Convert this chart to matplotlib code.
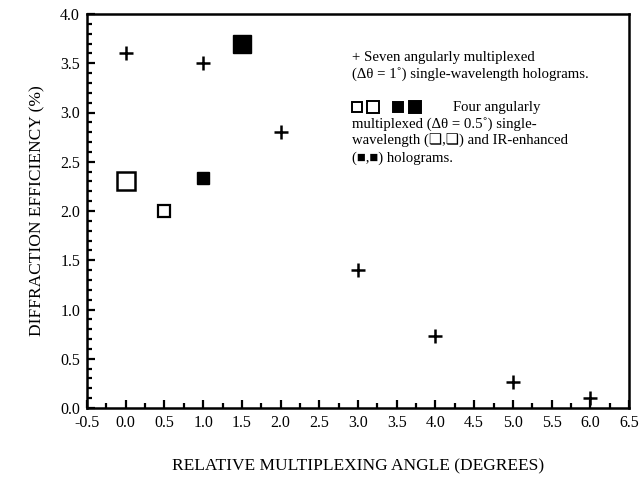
import matplotlib
matplotlib.use("Agg")
import matplotlib.pyplot as plt
from matplotlib.ticker import MultipleLocator, FormatStrFormatter

plt.rcParams['font.family'] = ['Liberation Serif', 'DejaVu Serif', 'DejaVu Sans']

# Seven angularly multiplexed holograms (+)
plus_x = [0, 1, 2, 3, 4, 5, 6]
plus_y = [3.60, 3.50, 2.80, 1.40, 0.73, 0.26, 0.10]

# Four angularly multiplexed holograms
open_large_x = [0.0]
open_large_y = [2.30]
open_small_x = [0.5]
open_small_y = [2.00]
filled_small_x = [1.0]
filled_small_y = [2.33]
filled_large_x = [1.5]
filled_large_y = [3.70]

fig = plt.figure(figsize=(6.42, 4.79), dpi=100)
ax = fig.add_axes([87/642, 1 - 408/479, (629-87)/642, (408-14)/479])

ax.plot(plus_x, plus_y, linestyle='none', marker='+', markersize=10,
        markeredgewidth=1.8, color='black')
ax.plot(open_large_x, open_large_y, linestyle='none', marker='s', markersize=13,
        markerfacecolor='white', markeredgecolor='black', markeredgewidth=1.8)
ax.plot(open_small_x, open_small_y, linestyle='none', marker='s', markersize=8,
        markerfacecolor='white', markeredgecolor='black', markeredgewidth=1.6)
ax.plot(filled_small_x, filled_small_y, linestyle='none', marker='s', markersize=8,
        color='black')
ax.plot(filled_large_x, filled_large_y, linestyle='none', marker='s', markersize=13,
        color='black')

ax.set_xlim(-0.5, 6.5)
ax.set_ylim(0.0, 4.0)
ax.xaxis.set_major_locator(MultipleLocator(0.5))
ax.xaxis.set_minor_locator(MultipleLocator(0.25))
ax.yaxis.set_major_locator(MultipleLocator(0.5))
ax.yaxis.set_minor_locator(MultipleLocator(0.1))
ax.xaxis.set_major_formatter(FormatStrFormatter('%.1f'))
ax.yaxis.set_major_formatter(FormatStrFormatter('%.1f'))
ax.tick_params(which='both', direction='in', top=False, right=False,
               width=1.6, labelsize=11.5)
ax.tick_params(which='major', length=6, pad=5)
ax.tick_params(which='minor', length=3.5)
for s in ax.spines.values():
    s.set_linewidth(1.8)

ax.set_xlabel('RELATIVE MULTIPLEXING ANGLE (DEGREES)', fontsize=12.5, labelpad=20)
ax.set_ylabel('DIFFRACTION EFFICIENCY (%)', fontsize=12.5, labelpad=11)

# Annotation text
tx = (352 - 87) / 542
def yfr(py):
    return (408 - py) / 394

fs = 10.6
ax.text(tx, yfr(57), '+ Seven angularly multiplexed', transform=ax.transAxes,
        fontsize=fs, va='center', ha='left')
ax.text(tx, yfr(74), '(\u0394\u03b8 = 1\u02da) single-wavelength holograms.',
        transform=ax.transAxes, fontsize=fs, va='center', ha='left')

# legend keys
key_y = yfr(107)
for px, filled, ms in [(357, False, 7), (373, False, 9), (398, True, 7), (415, True, 9)]:
    ax.plot([(px - 87) / 542], [key_y], transform=ax.transAxes, marker='s',
            markersize=ms, markerfacecolor='black' if filled else 'white',
            markeredgecolor='black', markeredgewidth=1.4, linestyle='none',
            clip_on=False)
ax.text((453 - 87) / 542, key_y, 'Four angularly', transform=ax.transAxes,
        fontsize=fs, va='center', ha='left')
ax.text(tx, yfr(124), 'multiplexed (\u0394\u03b8 = 0.5\u02da) single-',
        transform=ax.transAxes, fontsize=fs, va='center', ha='left')
ax.text(tx, yfr(141), 'wavelength (\u274f,\u274f) and IR-enhanced',
        transform=ax.transAxes, fontsize=fs, va='center', ha='left',
        family=['Liberation Serif', 'DejaVu Sans'])
ax.text(tx, yfr(158), '(\u25a0,\u25a0) holograms.',
        transform=ax.transAxes, fontsize=fs, va='center', ha='left',
        family=['Liberation Serif', 'DejaVu Sans'])

fig.savefig('out.png', dpi=100)
